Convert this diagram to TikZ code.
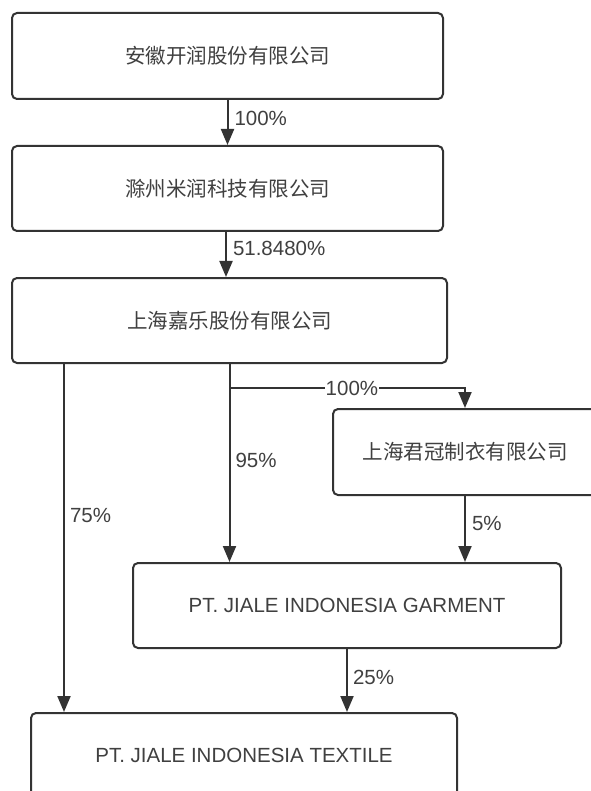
\documentclass[tikz,border=0pt]{standalone}
\usepackage{fontspec}
\setmainfont{Liberation Sans}
\newfontfamily\cjk{Noto Sans CJK SC}
\usetikzlibrary{arrows.meta}
\definecolor{linegray}{HTML}{333333}
\definecolor{textgray}{HTML}{404040}

\begin{document}
\begin{tikzpicture}[x=1pt, y=-1pt,
    box/.style={draw=linegray, line width=2pt, rounded corners=5pt, fill=white,
      text=textgray, font=\fontsize{20.5}{24}\selectfont, inner sep=0pt},
    arr/.style={draw=linegray, line width=2pt, -{Triangle[width=13pt, length=16pt]}},
    lbl/.style={fill=white, text=textgray, font=\fontsize{20.5}{24}\selectfont, inner sep=1pt}]
    \useasboundingbox (0,0) rectangle (590,791);
    \node[box, minimum width=431pt, minimum height=86pt] (kairun) at (227.5,56) {\cjk 安徽开润股份有限公司};
    \node[box, minimum width=431pt, minimum height=85pt] (mirun) at (227.5,188.5) {\cjk 滁州米润科技有限公司};
    \node[box, minimum width=435pt, minimum height=85pt] (jiale) at (229.5,320.5) {\cjk 上海嘉乐股份有限公司};
    \node[box, minimum width=264pt, minimum height=86pt] (junguan) at (465,452) {\cjk 上海君冠制衣有限公司};
    \node[box, minimum width=428pt, minimum height=85pt] (garment) at (347,605.5) {PT. JIALE INDONESIA GARMENT};
    \node[box, minimum width=426pt, minimum height=85pt] (textile) at (244,755.5) {PT. JIALE INDONESIA TEXTILE};
    \coordinate (fork) at ([yshift=-24pt]jiale.south);
    \draw[arr] (kairun.south) -- (mirun.north) node[lbl, pos=0.4, right, xshift=5pt] {100\%};
    \draw[arr] ([xshift=-1.5pt]mirun.south) -- ([xshift=-1.5pt]mirun.south |- jiale.north) node[lbl, pos=0.36, right, xshift=5pt] {51.8480\%};
    \draw[arr] ([xshift=53pt]jiale.south west) -- ([xshift=34pt]textile.north west) node[lbl, pos=0.434, right, xshift=4pt] {75\%};
    \draw[arr] (jiale.south) -- (jiale.south |- garment.north) node[lbl, pos=0.485, right, xshift=4pt] {95\%};
    \draw[arr] (fork) -| (junguan.north) node[lbl, pos=0.26] {100\%};
    \draw[arr] (junguan.south) -- (junguan.south |- garment.north) node[lbl, pos=0.41, right, xshift=5pt] {5\%};
    \draw[arr] (garment.south) -- (garment.south |- textile.north) node[lbl, pos=0.45, right, xshift=4pt] {25\%};
\end{tikzpicture}
\end{document}
